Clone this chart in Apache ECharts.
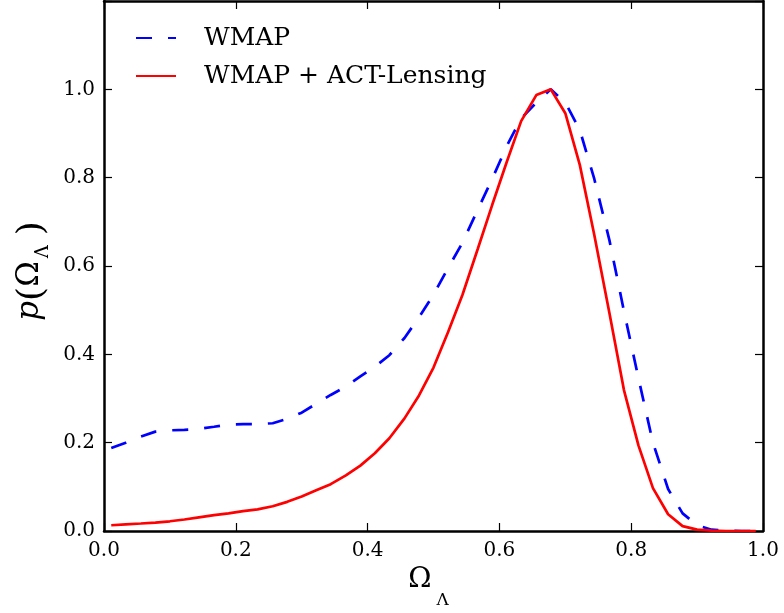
<!DOCTYPE html>
<html>
<head>
<meta charset="utf-8">
<script src="https://cdn.jsdelivr.net/npm/echarts@6/dist/echarts.min.js"></script>
<style>
html,body{margin:0;padding:0;background:#fff;overflow:hidden;}
#chart{width:784px;height:613px;}
</style>
</head>
<body>
<div id="chart"></div>
<script>
// Omega_Lambda sample points (bin centres)
const omegaL = [0.011,0.033,0.056,0.078,0.100,0.122,0.144,0.167,0.189,0.211,0.233,0.256,0.278,0.300,0.322,0.344,0.367,0.389,0.411,0.433,0.456,0.478,0.500,0.522,0.544,0.567,0.589,0.611,0.633,0.656,0.678,0.700,0.722,0.744,0.767,0.789,0.811,0.833,0.856,0.878,0.900,0.922,0.944,0.967,0.989];
// WMAP (blue dashed)
const wmap = [0.188,0.200,0.214,0.225,0.228,0.229,0.231,0.236,0.241,0.242,0.242,0.244,0.254,0.268,0.288,0.308,0.327,0.350,0.372,0.398,0.437,0.484,0.535,0.595,0.653,0.727,0.797,0.871,0.934,0.970,1.000,0.970,0.908,0.797,0.658,0.498,0.346,0.200,0.095,0.040,0.013,0.003,0.001,0.000,0.000];
// WMAP + ACT-Lensing (red solid)
const wmapAct = [0.013,0.015,0.017,0.019,0.022,0.026,0.031,0.036,0.040,0.045,0.049,0.056,0.066,0.078,0.092,0.106,0.126,0.148,0.176,0.210,0.255,0.307,0.370,0.450,0.535,0.638,0.738,0.835,0.928,0.987,1.000,0.946,0.829,0.670,0.493,0.319,0.194,0.097,0.038,0.011,0.003,0.001,0.000,0.000,0.000];
const seriesNames = ['WMAP', 'WMAP + ACT-Lensing'];
const xTicks = [0, 0.2, 0.4, 0.6, 0.8, 1.0];
const yTicks = [0, 0.2, 0.4, 0.6, 0.8, 1.0];

const FONT = 'DejaVu Serif';
const chart = echarts.init(document.getElementById('chart'), null, {renderer: 'canvas'});

const axisLine = {show: true, onZero: false, lineStyle: {color: '#000', width: 2.5}};
const axisTick = {show: true, inside: true, length: 8, lineStyle: {color: '#000', width: 1.2}};

function fmtX(v) { return xTicks.some(t => Math.abs(t - v) < 1e-6) ? v.toFixed(1) : ''; }
function fmtY(v) { return yTicks.some(t => Math.abs(t - v) < 1e-6) ? v.toFixed(1) : ''; }

chart.setOption({
  animation: false,
  backgroundColor: '#fff',
  grid: {left: 104, right: 21, top: 1, bottom: 82, containLabel: false, outerBoundsMode: 'none'},
  legend: {
    data: seriesNames,
    orient: 'vertical',
    left: 130,
    top: 18,
    itemWidth: 40,
    itemHeight: 14,
    itemGap: 8,
    itemStyle: {opacity: 0},
    textStyle: {fontFamily: FONT, fontSize: 25, color: '#000', lineHeight: 30, padding: [0, 0, 0, 23]}
  },
  xAxis: [
    {
      type: 'value', min: 0, max: 1, interval: 0.2, position: 'bottom',
      axisLine: axisLine, axisTick: axisTick, splitLine: {show: false},
      axisLabel: {formatter: fmtX, fontFamily: FONT, fontSize: 20, color: '#000', margin: 10},
      name: '{a|Ω}{b|Λ}', nameLocation: 'middle', nameGap: 28,
      nameTextStyle: {
        padding: [0, 10, 0, 0],
        rich: {
          a: {fontFamily: FONT, fontSize: 28, color: '#000', lineHeight: 30, verticalAlign: 'top'},
          b: {fontFamily: FONT, fontSize: 17, color: '#000', lineHeight: 43, verticalAlign: 'bottom', padding: [0, 0, 0, 5]}
        }
      }
    },
    {
      type: 'value', min: 0, max: 1, interval: 0.2, position: 'top',
      axisLine: axisLine, axisTick: axisTick, splitLine: {show: false},
      axisLabel: {show: false}
    }
  ],
  yAxis: [
    {
      type: 'value', min: 0, max: 1.2, interval: 0.2, position: 'left',
      axisLine: axisLine, axisTick: axisTick, splitLine: {show: false},
      axisLabel: {formatter: fmtY, fontFamily: FONT, fontSize: 20, color: '#000', margin: 9},
      name: '{i|p}{pa|(}{n|Ω}{s|Λ}{n| }{pa|)}', nameLocation: 'middle', nameGap: 47,
      nameTextStyle: {
        padding: [0, 10, 0, 0],
        rich: {
          i: {fontFamily: FONT, fontStyle: 'italic', fontSize: 31, color: '#000', lineHeight: 34, verticalAlign: 'top'},
          pa: {fontFamily: FONT, fontSize: 36, color: '#000', lineHeight: 38, verticalAlign: 'top'},
          n: {fontFamily: FONT, fontSize: 31, color: '#000', lineHeight: 34, verticalAlign: 'top'},
          s: {fontFamily: FONT, fontSize: 18, color: '#000', lineHeight: 38, verticalAlign: 'bottom', padding: [0, 0, 0, 3]}
        }
      }
    },
    {
      type: 'value', min: 0, max: 1.2, interval: 0.2, position: 'right',
      axisLine: axisLine, axisTick: axisTick, splitLine: {show: false},
      axisLabel: {show: false}
    }
  ],
  series: [
    {
      name: seriesNames[0], type: 'line', symbol: 'none', xAxisIndex: 0, yAxisIndex: 0,
      data: omegaL.map((x, i) => [x, wmap[i]]),
      lineStyle: {color: '#0000ff', width: 2.7, type: [16, 16], cap: 'butt'},
      itemStyle: {color: '#0000ff'}
    },
    {
      name: seriesNames[1], type: 'line', symbol: 'none', xAxisIndex: 0, yAxisIndex: 0,
      data: omegaL.map((x, i) => [x, wmapAct[i]]),
      lineStyle: {color: '#ff0000', width: 2.7, type: 'solid'},
      itemStyle: {color: '#ff0000'}
    }
  ]
});
</script>
</body>
</html>
